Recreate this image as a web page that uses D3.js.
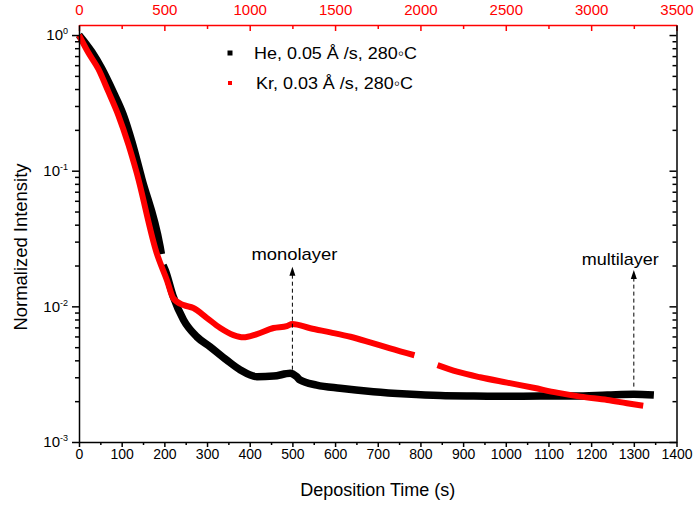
<!DOCTYPE html>
<html>
<head>
<meta charset="utf-8">
<script src="https://cdn.jsdelivr.net/npm/d3@7"></script>
<style>
  body { margin: 0; background: #fff; }
  svg { display: block; font-family: "Liberation Sans", Arial, sans-serif; }
</style>
</head>
<body>
<div id="chart"></div>
<script>
// He, 0.05 A/s (black) -- null marks the short break in the record
const heTime = [0, 30, 53, 80, 104, 124, 147, 190, 193, null,
  197, 202, 221, 245, 276, 307, 346, 378, 417, 456, 495, 510, 518, 557, 612,
  690, 768, 847, 925, 1000, 1081, 1160, 1238, 1300, 1347];
const heValue = [1.0, 0.751, 0.568, 0.381, 0.257, 0.163, 0.0877, 0.0275, 0.0243, null,
  0.0201, 0.0185, 0.01177, 0.00793, 0.00597, 0.00504, 0.00402, 0.00340, 0.00303, 0.00306,
  0.00321, 0.00303, 0.00286, 0.00263, 0.00249, 0.00235, 0.00226, 0.00220, 0.00218,
  0.00217, 0.00218, 0.00218, 0.00222, 0.00225, 0.00222];

// Kr, 0.03 A/s (red)
const krTime = [0, 22, 45, 69, 92, 116, 135, 182, 206, 221, 245, 268, 300,
  331, 362, 385, 417, 456, 487, 500, 542, 589, 636, 682, 729, 786, null,
  840, 886, 940, 1003, 1065, 1120, 1175, 1238, 1284, 1322];
const krValue = [1.0, 0.74, 0.565, 0.381, 0.257, 0.155, 0.097, 0.0247,
  0.0156, 0.01146, 0.01022, 0.00972, 0.0082, 0.00692, 0.00614, 0.00591, 0.00625, 0.00692,
  0.00716, 0.00741, 0.00689, 0.00643, 0.00597, 0.00543, 0.00490, 0.00436, null,
  0.00369, 0.00330, 0.00300, 0.00274, 0.00251, 0.00231, 0.00216, 0.00204, 0.00193, 0.00185];

const seriesNames = ["He, 0.05 \u00c5 /s, 280\u25e6C", "Kr, 0.03 \u00c5 /s, 280\u25e6C"];

const bottomTicks = d3.range(0, 1401, 100);
const bottomMinor = d3.range(50, 1400, 100);
const topTicks = d3.range(0, 3501, 500);
const topMinor = d3.range(250, 3500, 500);
const decades = [1e-3, 1e-2, 1e-1, 1];
const decadeLabels = ["-3", "-2", "-1", "0"];

const annotTime = [500, 1300];
const annotFrom = [0.00303, 0.00256];
const annotTo = [0.0196, 0.0185];
const annotLabels = ["monolayer", "multilayer"];

const width = 696;
const height = 510;
const m = {left: 79, right: 676.5, top: 25, bottom: 442};

const svg = d3.select("#chart").append("svg")
    .attr("width", width)
    .attr("height", height);

const x = d3.scaleLinear().domain([0, 1400]).range([m.left, m.right]);
const xTop = d3.scaleLinear().domain([0, 3500]).range([m.left, m.right]);
const y = d3.scaleLog().domain([1e-3, 1.186]).range([m.bottom, m.top]);

let minorY = [];
decades.slice(0, 3).forEach(d => {
    for (let k = 2; k <= 9; k++) minorY.push(d * k);
});

// stretch a text element to a given width (the original lettering runs wide)
function fitWidth(sel, w) {
    sel.attr("textLength", w).attr("lengthAdjust", "spacingAndGlyphs");
}

// curves
const line = d3.line()
    .defined(d => d.v != null)
    .x(d => x(d.t))
    .y(d => y(d.v))
    .curve(d3.curveMonotoneX);

const heData = heTime.map((t, i) => ({t: t, v: heValue[i]}));
const krData = krTime.map((t, i) => ({t: t, v: krValue[i]}));

svg.append("path")
    .datum(heData)
    .attr("fill", "none")
    .attr("stroke", "#000")
    .attr("stroke-width", 7.5)
    .attr("d", line);

svg.append("path")
    .datum(krData)
    .attr("fill", "none")
    .attr("stroke", "#ff0000")
    .attr("stroke-width", 6)
    .attr("d", line);

// axes
function styleAxis(g, color, size) {
    g.selectAll(".domain").attr("stroke", color).attr("stroke-width", 1.5);
    g.selectAll(".tick line").attr("stroke", color).attr("stroke-width", 1.5);
    g.selectAll(".tick text").attr("fill", color).attr("font-size", size)
        .attr("font-family", "Liberation Sans, Arial, sans-serif");
}

const gBottom = svg.append("g")
    .attr("transform", `translate(0,${m.bottom})`)
    .call(d3.axisBottom(x).tickValues(bottomTicks).tickFormat(d3.format("d"))
        .tickSize(5).tickSizeOuter(0).tickPadding(2));
styleAxis(gBottom, "#000", 14);

const gBottomMinor = svg.append("g")
    .attr("transform", `translate(0,${m.bottom})`)
    .call(d3.axisBottom(x).tickValues(bottomMinor).tickSize(3).tickFormat(""));
gBottomMinor.select(".domain").remove();
styleAxis(gBottomMinor, "#000", 14);

const gTop = svg.append("g")
    .attr("transform", `translate(0,${m.top})`)
    .call(d3.axisTop(xTop).tickValues(topTicks).tickFormat(d3.format("d"))
        .tickSize(-6).tickSizeOuter(0).tickPadding(10));
styleAxis(gTop, "#ff0000", 15);

const gTopMinor = svg.append("g")
    .attr("transform", `translate(0,${m.top})`)
    .call(d3.axisTop(xTop).tickValues(topMinor).tickSize(-4).tickFormat(""));
gTopMinor.select(".domain").remove();
styleAxis(gTopMinor, "#ff0000", 14);

const gLeft = svg.append("g")
    .attr("transform", `translate(${m.left},0)`)
    .call(d3.axisLeft(y).tickValues(decades).tickSize(7).tickSizeOuter(0).tickPadding(4));
styleAxis(gLeft, "#000", 15);
gLeft.selectAll(".tick text").each(function(d) {
    const t = d3.select(this);
    t.text("10");
    t.append("tspan")
        .attr("dy", -6)
        .attr("font-size", 9)
        .text(decadeLabels[decades.indexOf(d)]);
});

const gLeftMinor = svg.append("g")
    .attr("transform", `translate(${m.left},0)`)
    .call(d3.axisLeft(y).tickValues(minorY).tickSize(4).tickFormat(""));
gLeftMinor.select(".domain").remove();
styleAxis(gLeftMinor, "#000", 14);

const gRight = svg.append("g")
    .attr("transform", `translate(${m.right},0)`)
    .call(d3.axisRight(y).tickValues(decades).tickSize(-7).tickSizeOuter(0).tickFormat(""));
styleAxis(gRight, "#000", 14);

const gRightMinor = svg.append("g")
    .attr("transform", `translate(${m.right},0)`)
    .call(d3.axisRight(y).tickValues(minorY).tickSize(-4).tickFormat(""));
gRightMinor.select(".domain").remove();
styleAxis(gRightMinor, "#000", 14);

// axis titles
svg.append("text")
    .attr("x", (m.left + m.right) / 2)
    .attr("y", 496)
    .attr("text-anchor", "middle")
    .attr("font-size", 18)
    .text("Deposition Time (s)");

svg.append("text")
    .attr("transform", "translate(27,247) rotate(-90)")
    .attr("text-anchor", "middle")
    .attr("font-size", 18)
    .call(fitWidth, 167)
    .text("Normalized Intensity");

// legend
const legend = svg.append("g").attr("transform", "translate(230,53)");
legend.append("rect").attr("x", -2.5).attr("y", -2.5).attr("width", 5).attr("height", 5).attr("fill", "#000");
legend.append("rect").attr("x", -2).attr("y", 28).attr("width", 4).attr("height", 4).attr("fill", "#ff0000");
legend.append("text").attr("x", 24).attr("y", 5.5).attr("font-size", 17)
    .call(fitWidth, 163).text(seriesNames[0]);
legend.append("text").attr("x", 26).attr("y", 35.5).attr("font-size", 17)
    .call(fitWidth, 157).text(seriesNames[1]);

// annotations
const labelDx = [-41, -52];
const labelGap = [7, 5];
const labelWidth = [86, 77];
annotTime.forEach((t, i) => {
    const ax = x(t);
    const y0 = y(annotFrom[i]);
    const y1 = y(annotTo[i]);
    svg.append("line")
        .attr("x1", ax).attr("x2", ax)
        .attr("y1", y0).attr("y2", y1 + 7)
        .attr("stroke", "#000")
        .attr("stroke-width", 1)
        .attr("stroke-dasharray", "4,3");
    svg.append("path")
        .attr("d", `M${ax},${y1} L${ax - 3},${y1 + 9} L${ax + 3},${y1 + 9} Z`)
        .attr("fill", "#000");
    svg.append("text")
        .attr("x", ax + labelDx[i])
        .attr("y", y1 - labelGap[i])
        .attr("font-size", 17)
        .call(fitWidth, labelWidth[i])
        .text(annotLabels[i]);
});
</script>
</body>
</html>
